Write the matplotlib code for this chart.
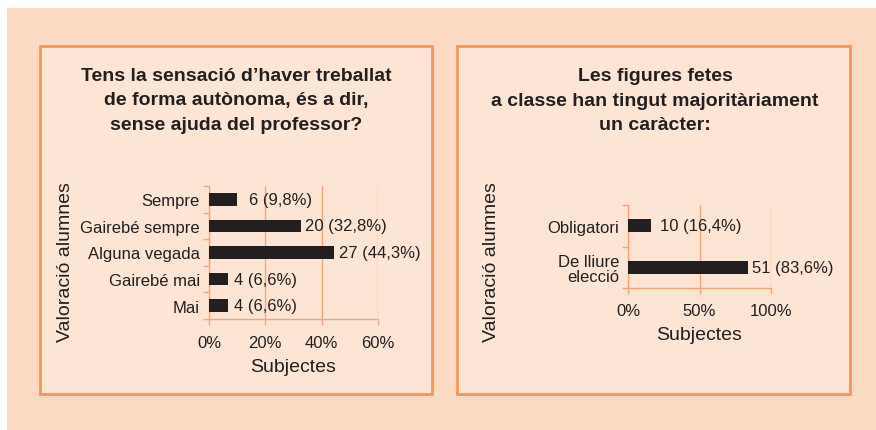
import matplotlib
matplotlib.use("Agg")
import matplotlib.pyplot as plt
from matplotlib.patches import Rectangle
from matplotlib.ticker import FuncFormatter

plt.rcParams['font.family'] = ['Liberation Sans', 'DejaVu Sans']

# data
cats1 = ['Sempre', 'Gairebé sempre', 'Alguna vegada', 'Gairebé mai', 'Mai']
counts1 = [6, 20, 27, 4, 4]
pct1 = [9.8, 32.8, 44.3, 6.6, 6.6]
title1 = "Tens la sensació d’haver treballat\nde forma autònoma, és a dir,\nsense ajuda del professor?"

cats2 = ['Obligatori', 'De lliure\nelecció']
counts2 = [10, 51]
pct2 = [16.4, 83.6]
title2 = "Les figures fetes\na classe han tingut majoritàriament\nun caràcter:"

W, H = 876, 431
OUTER = '#fcd9c3'
INNER = '#fde5d5'
EDGE = '#f7945f'
GRID = '#f6a57a'
INK = '#231f20'


def fx(px):
    return px / W


def fy(py):
    return 1 - py / H


fig = plt.figure(figsize=(W / 100, H / 100), dpi=100)
fig.patch.set_facecolor('white')
fig.patches.append(Rectangle((fx(7), 0), fx(W) - fx(7), fy(9), transform=fig.transFigure,
                             facecolor=OUTER, edgecolor='none', zorder=-3))
for l, r in [(40, 432), (457, 850)]:
    fig.patches.append(Rectangle((fx(l), fy(395)), fx(r) - fx(l), fy(47) - fy(395),
                                 transform=fig.transFigure, facecolor=INNER,
                                 edgecolor=EDGE, linewidth=2, zorder=-2))


def panel(box, cats, counts, pct, xmax, xticks, bar_h, gaps, title, tcx, ylab_x, xlab_y, xpad):
    l, t, r, b = box
    ax = fig.add_axes([fx(l), fy(b), fx(r) - fx(l), fy(t) - fy(b)])
    ax.set_facecolor('none')
    n = len(cats)
    ypos = list(range(n))
    ax.barh(ypos, pct, height=bar_h, color=INK, zorder=3)
    for y, c, p, g in zip(ypos, counts, pct, gaps):
        lab = f"{c} ({p:.1f}%)".replace('.', ',')
        ax.annotate(lab, (p, y), xytext=(g, 0), textcoords='offset pixels',
                    ha='left', va='center', fontsize=12, color=INK, zorder=4)
    ax.set_ylim(n - 0.5, -0.5)
    ax.set_xlim(0, xmax)
    ax.set_yticks(ypos)
    ax.set_yticklabels(cats, fontsize=12, color=INK, linespacing=1.05)
    ax.set_yticks([i - 0.5 for i in range(n + 1)], minor=True)
    ax.tick_params(axis='y', which='major', length=0, pad=6.5)
    ax.tick_params(axis='y', which='minor', length=4, width=1, color=GRID, direction='out')
    ax.set_xticks(xticks)
    ax.xaxis.set_major_formatter(FuncFormatter(lambda v, _: f"{v:.0f}%"))
    ax.tick_params(axis='x', length=4, width=1, color=GRID, labelsize=12,
                   labelcolor=INK, pad=xpad)
    ax.grid(axis='x', color=GRID, linewidth=1, zorder=0)
    for s in ['top', 'right']:
        ax.spines[s].set_visible(False)
    for s in ['left', 'bottom']:
        ax.spines[s].set_color(GRID)
        ax.spines[s].set_linewidth(1)
    fig.text(fx(tcx), fy(101), title, ha='center', va='center', fontsize=14,
             fontweight='bold', color=INK, linespacing=1.55)
    fig.text(fx(ylab_x), fy(262), 'Valoració alumnes', rotation=90, ha='center',
             va='center', fontsize=14, color=INK)
    fig.text(fx((l + r) / 2), fy(xlab_y), 'Subjectes', ha='center', va='center',
             fontsize=14, color=INK)
    return ax


panel((209, 187, 378, 320), cats1, counts1, pct1, 60, [0, 20, 40, 60], 0.48,
      [12, 4, 5, 6, 6], title1, 236, 66, 368, 7.5)
panel((628, 206, 771, 289), cats2, counts2, pct2, 100, [0, 50, 100], 0.31,
      [9, 4], title2, 655, 491, 336, 6.5)

fig.savefig('out.png', dpi=100, facecolor=fig.get_facecolor())
